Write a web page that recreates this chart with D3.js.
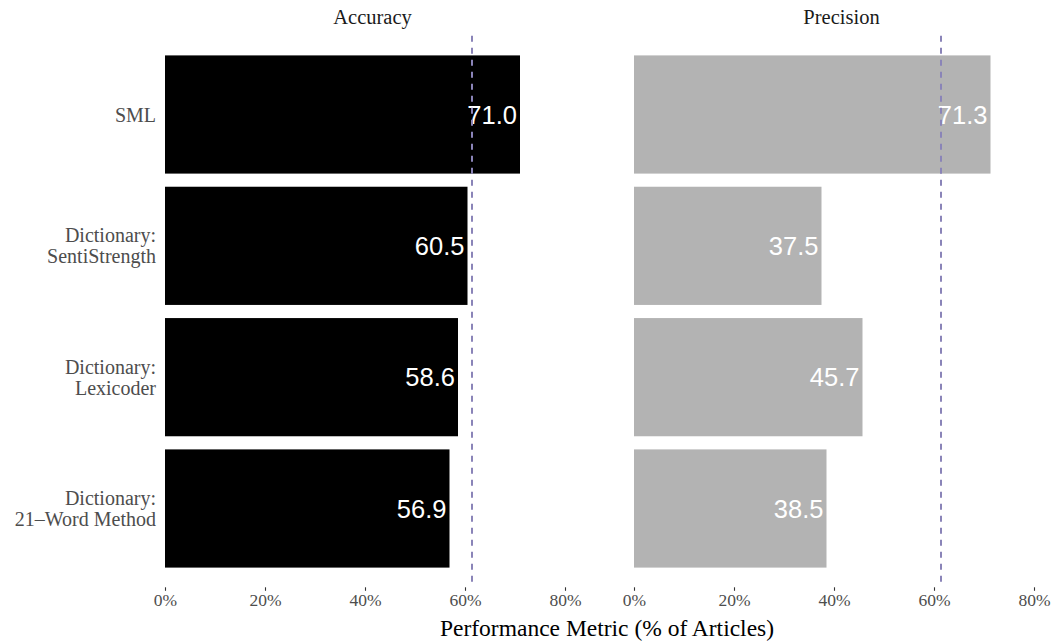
<!DOCTYPE html>
<html>
<head>
<meta charset="utf-8">
<script src="https://cdn.jsdelivr.net/npm/d3@7"></script>
<style>
  html, body { margin: 0; padding: 0; background: #fff; }
  svg { display: block; }
</style>
</head>
<body>
<svg id="chart" width="1060" height="641"></svg>
<script>
const categories = ["SML", "Dictionary:\nSentiStrength", "Dictionary:\nLexicoder", "Dictionary:\n21\u2013Word Method"];
const metrics = ["Accuracy", "Precision"];
const accuracyValues = [71.0, 60.5, 58.6, 56.9];
const precisionValues = [71.3, 37.5, 45.7, 38.5];
const baselineValue = 61.4;
const tickValues = [0, 20, 40, 60, 80];
const axisTitle = "Performance Metric (% of Articles)";

const seriesValues = [accuracyValues, precisionValues];
const barColors = ["#000000", "#b3b3b3"];

const svg = d3.select("#chart");
const serif = "'Liberation Serif', 'DejaVu Serif', serif";
const sans = "'Liberation Sans', Arial, sans-serif";

const panelTop = 35.7, panelBottom = 587.3;
const panelLefts = [165, 634];
const panelWidth = 415;

const y = d3.scaleBand()
  .domain(categories)
  .range([panelTop, panelBottom])
  .paddingInner(0.1)
  .paddingOuter(0.15);

metrics.forEach((m, i) => {
  const x = d3.scaleLinear().domain([0, 83]).range([panelLefts[i], panelLefts[i] + panelWidth]);
  const g = svg.append("g");

  // strip title
  g.append("text")
    .attr("x", (x.range()[0] + x.range()[1]) / 2)
    .attr("y", 24)
    .attr("text-anchor", "middle")
    .attr("font-family", serif)
    .attr("font-size", 20.5)
    .attr("fill", "#1a1a1a")
    .text(m);

  const data = categories.map((c, j) => ({ c, v: seriesValues[i][j] }));

  g.selectAll("rect.bar").data(data).enter().append("rect")
    .attr("class", "bar")
    .attr("x", x(0))
    .attr("y", d => y(d.c))
    .attr("width", d => x(d.v) - x(0))
    .attr("height", y.bandwidth())
    .attr("fill", barColors[i]);

  g.selectAll("text.val").data(data).enter().append("text")
    .attr("class", "val")
    .attr("x", d => x(d.v) - 3)
    .attr("y", d => y(d.c) + y.bandwidth() / 2)
    .attr("dy", "0.36em")
    .attr("text-anchor", "end")
    .attr("font-family", sans)
    .attr("font-size", 25.5)
    .attr("fill", "#ffffff")
    .text(d => d.v.toFixed(1));

  // dashed baseline
  g.append("line")
    .attr("x1", x(baselineValue)).attr("x2", x(baselineValue))
    .attr("y1", panelTop).attr("y2", panelBottom)
    .attr("stroke", "#8a84b8")
    .attr("stroke-width", 2)
    .attr("stroke-dasharray", "6,6");

  // x axis
  const axis = d3.axisBottom(x).tickValues(tickValues).tickFormat(d => d + "%").tickSize(3.5).tickPadding(3);
  const ag = g.append("g").attr("transform", `translate(0,${panelBottom})`).call(axis);
  ag.select(".domain").remove();
  ag.selectAll(".tick line").attr("stroke", "#333").attr("stroke-width", 1.1);
  ag.selectAll(".tick text")
    .attr("font-family", serif)
    .attr("font-size", 17.5)
    .attr("fill", "#4d4d4d");
});

// category labels
const yl = svg.append("g");
categories.forEach(c => {
  const lines = c.split("\n");
  const cy = y(c) + y.bandwidth() / 2;
  const lh = 21;
  const t = yl.append("text")
    .attr("text-anchor", "end")
    .attr("font-family", serif)
    .attr("font-size", 20)
    .attr("fill", "#4d4d4d");
  lines.forEach((l, k) => {
    t.append("tspan")
      .attr("x", 156)
      .attr("y", cy + (k - (lines.length - 1) / 2) * lh)
      .attr("dy", "0.35em")
      .text(l);
  });
});

// axis title
svg.append("text")
  .attr("x", (165 + 1049) / 2)
  .attr("y", 636)
  .attr("text-anchor", "middle")
  .attr("font-family", serif)
  .attr("font-size", 23.5)
  .attr("fill", "#000")
  .text(axisTitle);
</script>
</body>
</html>
